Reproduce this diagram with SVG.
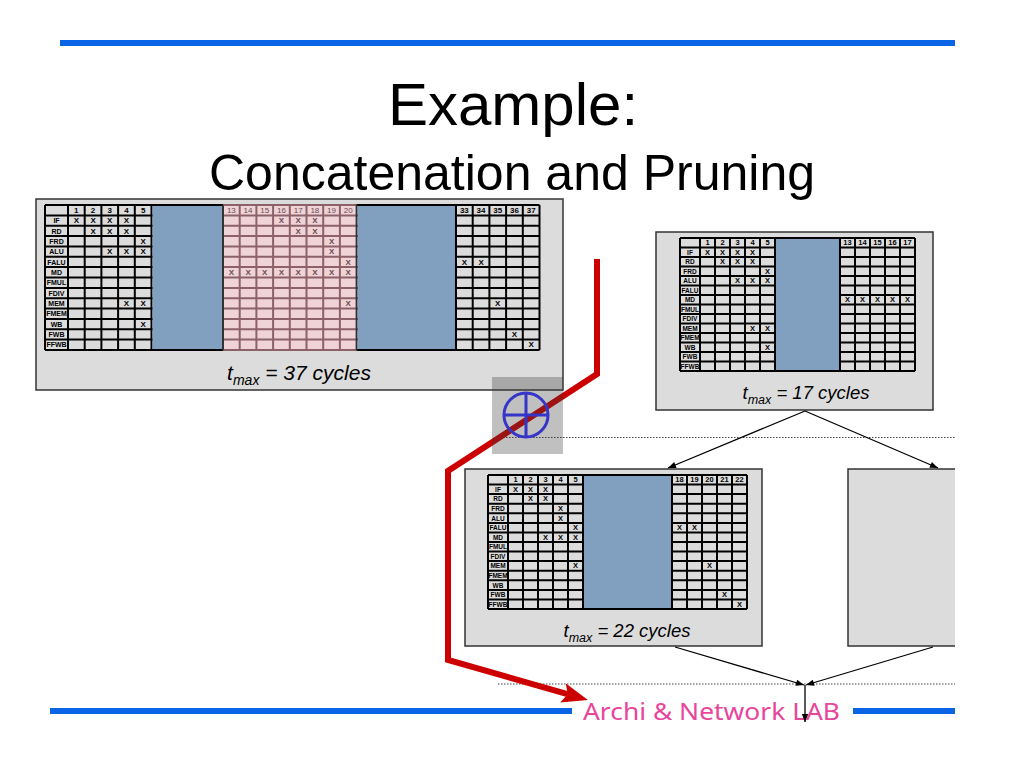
<svg xmlns="http://www.w3.org/2000/svg" width="1024" height="768" viewBox="0 0 1024 768">
<style>
.box{fill:#dcdcdc;stroke:#333;stroke-width:1.5}
.cell{fill:#dcdcdc}
.grid{fill:none;stroke:#000;stroke-width:2}
.pgrid{fill:none;stroke:#8c6268;stroke-width:2}
.blue{fill:#819fbe}
.pink{fill:#efd3d7}
.t{font-family:"Liberation Sans",Arial,sans-serif;font-weight:bold;text-anchor:middle;fill:#000}
.l1{font-size:7px}.l2{font-size:6.5px}
.x1{font-size:8px}.x2{font-size:7.5px}
.pk{fill:#6e4a52}
.tm{font-family:"Liberation Sans",Arial,sans-serif;font-style:italic;text-anchor:middle;fill:#000}
.bl{stroke:#0a64e6;stroke-width:6}
.dot{stroke:#444;stroke-width:1.2;stroke-dasharray:1.5 1.5;fill:none}
.con{stroke:#000;stroke-width:1.3;fill:none}
</style>
<defs>
<marker id="ah" viewBox="0 0 10 10" refX="10" refY="5" markerWidth="9" markerHeight="8" orient="auto" markerUnits="userSpaceOnUse"><path d="M0,1 L10,5 L0,9 z" fill="#000"/></marker>
<marker id="rah" viewBox="0 0 26 20" refX="12" refY="10" markerWidth="26" markerHeight="20" orient="auto" markerUnits="userSpaceOnUse"><path d="M0,0 L26,10 L0,20 L5,10 z" fill="#cc0000"/></marker>
</defs>
<rect width="1024" height="768" fill="#fff"/>
<g id="title">
<line class="bl" x1="60" y1="43" x2="955" y2="43"/>
<text x="513" y="125" font-family="Liberation Sans,Arial,sans-serif" font-size="60" text-anchor="middle">Example:</text>
<text x="512" y="190" font-family="Liberation Sans,Arial,sans-serif" font-size="50" text-anchor="middle">Concatenation and Pruning</text>
</g>

<g id="box1">
<rect class="box" x="36" y="199" width="527" height="191"/>
<rect class="cell" x="45" y="205" width="494.5" height="145"/>
<path class="grid" d="M45 205H539.5M45 215.4H539.5M45 225.7H539.5M45 236.1H539.5M45 246.4H539.5M45 256.8H539.5M45 267.1H539.5M45 277.5H539.5M45 287.9H539.5M45 298.2H539.5M45 308.6H539.5M45 318.9H539.5M45 329.3H539.5M45 339.6H539.5M45 350H539.5M45 205V350M68 205V350M84.7 205V350M101.4 205V350M118.1 205V350M134.8 205V350M151.5 205V350M456 205V350M472.7 205V350M489.4 205V350M506.1 205V350M522.8 205V350M539.5 205V350"/>
<rect class="blue" x="152.5" y="206" width="70.5" height="143"/>
<rect class="pink" x="223" y="205" width="133.6" height="145"/>
<path class="pgrid" d="M223 205H356.6M223 215.4H356.6M223 225.7H356.6M223 236.1H356.6M223 246.4H356.6M223 256.8H356.6M223 267.1H356.6M223 277.5H356.6M223 287.9H356.6M223 298.2H356.6M223 308.6H356.6M223 318.9H356.6M223 329.3H356.6M223 339.6H356.6M223 350H356.6M239.7 205V350M256.4 205V350M273.1 205V350M289.8 205V350M306.5 205V350M323.2 205V350M339.9 205V350"/>
<path d="M223 205V350M356.6 205V350" stroke="#333" stroke-width="2"/>
<rect class="blue" x="357.6" y="206" width="97.4" height="143"/>
<g class="t l1">
<text x="56.5" y="223.2">IF</text><text x="56.5" y="233.5">RD</text><text x="56.5" y="243.9">FRD</text><text x="56.5" y="254.2">ALU</text><text x="56.5" y="264.6">FALU</text><text x="56.5" y="274.9">MD</text><text x="56.5" y="285.3">FMUL</text><text x="56.5" y="295.7">FDIV</text><text x="56.5" y="306">MEM</text><text x="56.5" y="316.4">FMEM</text><text x="56.5" y="326.7">WB</text><text x="56.5" y="337.1">FWB</text><text x="56.5" y="347.4">FFWB</text>
</g>
<g class="t x1">
<text x="76.35" y="212.8">1</text><text x="93.05" y="212.8">2</text><text x="109.75" y="212.8">3</text><text x="126.45" y="212.8">4</text><text x="143.15" y="212.8">5</text>
<text x="464.35" y="212.8">33</text><text x="481.05" y="212.8">34</text><text x="497.75" y="212.8">35</text><text x="514.45" y="212.8">36</text><text x="531.15" y="212.8">37</text>
<text x="76.35" y="223.2">X</text><text x="93.05" y="223.2">X</text><text x="109.75" y="223.2">X</text><text x="126.45" y="223.2">X</text>
<text x="93.05" y="233.5">X</text><text x="109.75" y="233.5">X</text><text x="126.45" y="233.5">X</text>
<text x="143.15" y="243.9">X</text>
<text x="109.75" y="254.2">X</text><text x="126.45" y="254.2">X</text><text x="143.15" y="254.2">X</text>
<text x="126.45" y="306">X</text><text x="143.15" y="306">X</text>
<text x="143.15" y="326.7">X</text>
<text x="464.35" y="264.6">X</text><text x="481.05" y="264.6">X</text>
<text x="497.75" y="306">X</text>
<text x="514.45" y="337.1">X</text>
<text x="531.15" y="347.4">X</text>
</g>
<g class="t x1 pk">
<text x="231.35" y="212.8" font-weight="normal">13</text><text x="248.05" y="212.8" font-weight="normal">14</text><text x="264.75" y="212.8" font-weight="normal">15</text><text x="281.45" y="212.8" font-weight="normal">16</text><text x="298.15" y="212.8" font-weight="normal">17</text><text x="314.85" y="212.8" font-weight="normal">18</text><text x="331.55" y="212.8" font-weight="normal">19</text><text x="348.25" y="212.8" font-weight="normal">20</text>
<text x="281.45" y="223.2">X</text><text x="298.15" y="223.2">X</text><text x="314.85" y="223.2">X</text>
<text x="298.15" y="233.5">X</text><text x="314.85" y="233.5">X</text>
<text x="331.55" y="243.9">X</text>
<text x="331.55" y="254.2">X</text>
<text x="348.25" y="264.6">X</text>
<text x="231.35" y="274.9">X</text><text x="248.05" y="274.9">X</text><text x="264.75" y="274.9">X</text><text x="281.45" y="274.9">X</text><text x="298.15" y="274.9">X</text><text x="314.85" y="274.9">X</text><text x="331.55" y="274.9">X</text><text x="348.25" y="274.9">X</text>
<text x="348.25" y="306">X</text>
</g>
<text class="tm" x="299" y="380" font-size="21">t<tspan font-size="14" dy="5">max</tspan><tspan dy="-5"> = 37 cycles</tspan></text>
</g>

<g id="box2">
<rect class="box" x="656" y="232" width="277" height="178"/>
<rect class="cell" x="680" y="238" width="235" height="133"/>
<path class="grid" d="M680 238H915M680 247.5H915M680 257H915M680 266.5H915M680 276H915M680 285.5H915M680 295H915M680 304.5H915M680 314H915M680 323.5H915M680 333H915M680 342.5H915M680 352H915M680 361.5H915M680 371H915M680 238V371M700 238V371M715 238V371M730 238V371M745 238V371M760 238V371M775 238V371M840 238V371M855 238V371M870 238V371M885 238V371M900 238V371M915 238V371"/>
<rect class="blue" x="776" y="239" width="63" height="131"/>
<g class="t l2">
<text x="690" y="254.8">IF</text><text x="690" y="264.3">RD</text><text x="690" y="273.8">FRD</text><text x="690" y="283.3">ALU</text><text x="690" y="292.8">FALU</text><text x="690" y="302.3">MD</text><text x="690" y="311.8">FMUL</text><text x="690" y="321.3">FDIV</text><text x="690" y="330.8">MEM</text><text x="690" y="340.3">FMEM</text><text x="690" y="349.8">WB</text><text x="690" y="359.3">FWB</text><text x="690" y="368.8">FFWB</text>
</g>
<g class="t x2">
<text x="707.5" y="245.3">1</text><text x="722.5" y="245.3">2</text><text x="737.5" y="245.3">3</text><text x="752.5" y="245.3">4</text><text x="767.5" y="245.3">5</text>
<text x="847.5" y="245.3">13</text><text x="862.5" y="245.3">14</text><text x="877.5" y="245.3">15</text><text x="892.5" y="245.3">16</text><text x="907.5" y="245.3">17</text>
<text x="707.5" y="254.8">X</text><text x="722.5" y="254.8">X</text><text x="737.5" y="254.8">X</text><text x="752.5" y="254.8">X</text>
<text x="722.5" y="264.3">X</text><text x="737.5" y="264.3">X</text><text x="752.5" y="264.3">X</text>
<text x="767.5" y="273.8">X</text>
<text x="737.5" y="283.3">X</text><text x="752.5" y="283.3">X</text><text x="767.5" y="283.3">X</text>
<text x="752.5" y="330.8">X</text><text x="767.5" y="330.8">X</text>
<text x="767.5" y="349.8">X</text>
<text x="847.5" y="302.3">X</text><text x="862.5" y="302.3">X</text><text x="877.5" y="302.3">X</text><text x="892.5" y="302.3">X</text><text x="907.5" y="302.3">X</text>
</g>
<text class="tm" x="806" y="399" font-size="18.5">t<tspan font-size="12.5" dy="4.5">max</tspan><tspan dy="-4.5"> = 17 cycles</tspan></text>
</g>

<g id="box3">
<rect class="box" x="465" y="469" width="297" height="177"/>
<rect class="cell" x="488" y="475" width="259" height="134"/>
<path class="grid" d="M488 475H747M488 484.6H747M488 494.1H747M488 503.7H747M488 513.3H747M488 522.9H747M488 532.4H747M488 542H747M488 551.6H747M488 561.1H747M488 570.7H747M488 580.3H747M488 589.9H747M488 599.4H747M488 609H747M488 475V609M508 475V609M523 475V609M538 475V609M553 475V609M568 475V609M583 475V609M672 475V609M687 475V609M702 475V609M717 475V609M732 475V609M747 475V609"/>
<rect class="blue" x="584" y="476" width="87" height="132"/>
<g class="t l2">
<text x="498" y="491.9">IF</text><text x="498" y="501.4">RD</text><text x="498" y="511">FRD</text><text x="498" y="520.6">ALU</text><text x="498" y="530.2">FALU</text><text x="498" y="539.7">MD</text><text x="498" y="549.3">FMUL</text><text x="498" y="558.9">FDIV</text><text x="498" y="568.4">MEM</text><text x="498" y="578">FMEM</text><text x="498" y="587.6">WB</text><text x="498" y="597.2">FWB</text><text x="498" y="606.7">FFWB</text>
</g>
<g class="t x2">
<text x="515.5" y="482.3">1</text><text x="530.5" y="482.3">2</text><text x="545.5" y="482.3">3</text><text x="560.5" y="482.3">4</text><text x="575.5" y="482.3">5</text>
<text x="679.5" y="482.3">18</text><text x="694.5" y="482.3">19</text><text x="709.5" y="482.3">20</text><text x="724.5" y="482.3">21</text><text x="739.5" y="482.3">22</text>
<text x="515.5" y="491.9">X</text><text x="530.5" y="491.9">X</text><text x="545.5" y="491.9">X</text>
<text x="530.5" y="501.4">X</text><text x="545.5" y="501.4">X</text>
<text x="560.5" y="511">X</text>
<text x="560.5" y="520.6">X</text>
<text x="575.5" y="530.2">X</text>
<text x="545.5" y="539.7">X</text><text x="560.5" y="539.7">X</text><text x="575.5" y="539.7">X</text>
<text x="575.5" y="568.4">X</text>
<text x="679.5" y="530.2">X</text><text x="694.5" y="530.2">X</text>
<text x="709.5" y="568.4">X</text>
<text x="724.5" y="597.2">X</text>
<text x="739.5" y="606.7">X</text>
</g>
<text class="tm" x="627" y="637" font-size="18.5">t<tspan font-size="12.5" dy="4.5">max</tspan><tspan dy="-4.5"> = 22 cycles</tspan></text>
</g>

<g id="box4">
<path d="M955 469H848V646H955V469z" fill="#dcdcdc"/>
<path d="M955 469H848V646H955" fill="none" stroke="#333" stroke-width="1.5"/>
</g>

<g id="footer">
<line class="bl" x1="50" y1="711" x2="572" y2="711" stroke-width="5"/>
<line class="bl" x1="853" y1="711" x2="955" y2="711" stroke-width="5"/>
<text x="583" y="720" font-family="Noto Sans,DejaVu Sans,sans-serif" font-size="24" fill="#e8469b" textLength="257" lengthAdjust="spacingAndGlyphs">Archi &amp; Network LAB</text>
</g>

<g id="connectors">
<line class="dot" x1="503" y1="437.5" x2="955" y2="437.5"/>
<line class="dot" x1="498" y1="684" x2="955" y2="684"/>
<line class="con" x1="805" y1="411" x2="668" y2="468" marker-end="url(#ah)"/>
<line class="con" x1="805" y1="411" x2="938" y2="468" marker-end="url(#ah)"/>
<line class="con" x1="675" y1="647" x2="804" y2="685" marker-end="url(#ah)"/>
<line class="con" x1="933" y1="647" x2="806" y2="685" marker-end="url(#ah)"/>
<line class="con" x1="805" y1="685" x2="805" y2="722" marker-end="url(#ah)"/>
<polyline points="597,259 597,374 448,471 448,660 574.5,696.2" fill="none" stroke="#cc0000" stroke-width="6" stroke-linejoin="miter" marker-end="url(#rah)"/>
</g>

<g id="plus-op">
<rect x="492" y="377" width="71" height="77" fill="#3c3c3c" fill-opacity="0.32"/>
<circle cx="526" cy="415" r="22" fill="none" stroke="#3535c8" stroke-width="3"/>
<path d="M504 415H548M526 393V437" stroke="#3535c8" stroke-width="3"/>
</g>
</svg>
